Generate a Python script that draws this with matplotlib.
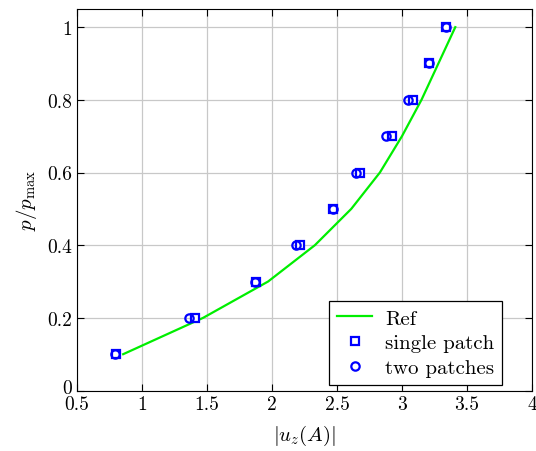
import numpy as np
import matplotlib
matplotlib.use("Agg")
import matplotlib.pyplot as plt
import matplotlib.transforms as mtransforms

plt.rcParams["font.family"] = "serif"
plt.rcParams["font.serif"] = ["cmr10", "DejaVu Serif"]
plt.rcParams["mathtext.fontset"] = "cm"
plt.rcParams["axes.formatter.use_mathtext"] = True

# data
p_levels = [0.1, 0.2, 0.3, 0.4, 0.5, 0.6, 0.7, 0.8, 0.9, 1.0]
u_ref = [0.855, 1.47, 1.97, 2.33, 2.61, 2.83, 3.00, 3.15, 3.28, 3.41]
u_single = [0.80, 1.41, 1.875, 2.215, 2.47, 2.68, 2.92, 3.087, 3.208, 3.338]
u_two = [0.79, 1.364, 1.87, 2.185, 2.47, 2.65, 2.88, 3.05, 3.208, 3.338]

fig = plt.figure(figsize=(5.36, 4.52), dpi=100)
ax = fig.add_axes([0.1437, 0.1338, 0.8488, 0.8441])

ax.plot(u_ref, p_levels, color="#00ee00", lw=1.6, label="Ref", zorder=2)
ax.plot(u_single, p_levels, ls="none", marker="s", ms=6, mfc="white",
        mec="#0000ff", mew=1.6, label="single patch", zorder=3)
ax.plot(u_two, p_levels, ls="none", marker="o", ms=6, mfc="none",
        mec="#0000ff", mew=1.6, label="two patches", zorder=4)

ax.set_xlim(0.5, 4)
ax.set_ylim(0, 1.05)
ax.set_xticks([0.5, 1, 1.5, 2, 2.5, 3, 3.5, 4])
ax.set_xticklabels(["0.5", "1", "1.5", "2", "2.5", "3", "3.5", "4"])
ax.set_yticks([0, 0.2, 0.4, 0.6, 0.8, 1])
ax.set_yticklabels(["0", "0.2", "0.4", "0.6", "0.8", "1"])
ax.grid(True, color="#c8c8c8", lw=0.9)
ax.set_axisbelow(True)
ax.tick_params(direction="in", top=True, right=True, labelsize=14, length=5)

# lift the "0" label a little so it clears "0.5"
lab0 = ax.get_yticklabels()[0]
lab0.set_transform(lab0.get_transform() +
                   mtransforms.ScaledTranslation(0, 3 / 72, fig.dpi_scale_trans))

ax.set_xlabel(r"$|u_z(A)|$", fontsize=15, labelpad=7)
ax.set_ylabel(r"$p/p_{\max}$", fontsize=15, labelpad=6)

leg = ax.legend(loc="lower right", bbox_to_anchor=(0.934, 0.014),
                fontsize=15, fancybox=False, framealpha=1,
                edgecolor="black", borderaxespad=0.0, handlelength=1.7,
                labelspacing=0.3, borderpad=0.38, handletextpad=0.6)
leg.get_frame().set_linewidth(0.9)

fig.savefig("out.png", dpi=100)
